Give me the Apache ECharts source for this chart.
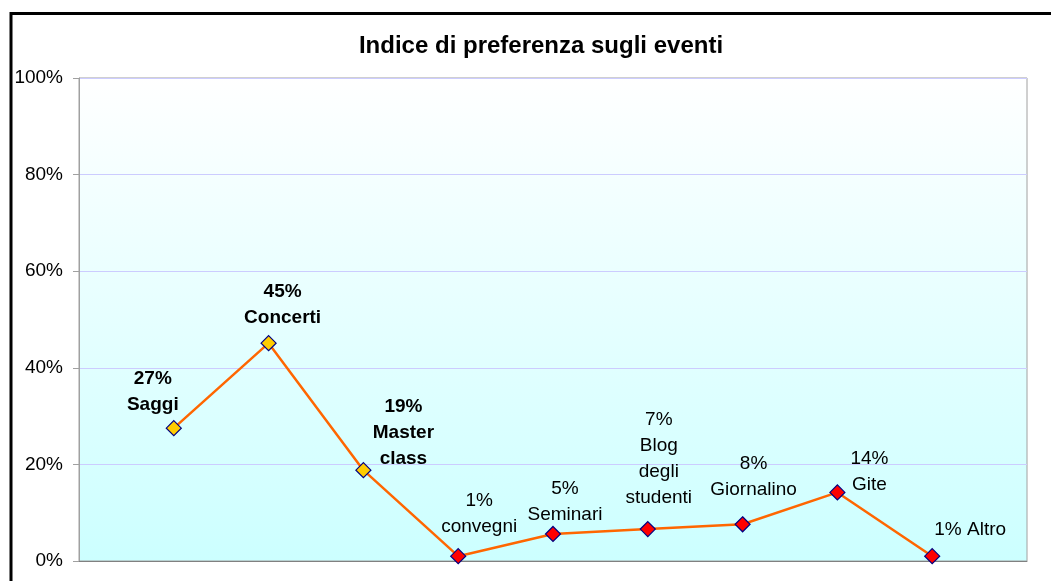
<!DOCTYPE html>
<html>
<head>
<meta charset="utf-8">
<script src="https://cdn.jsdelivr.net/npm/echarts@6/dist/echarts.min.js"></script>
<style>
html, body { margin: 0; padding: 0; background: #fff; }
#chart { width: 1051px; height: 581px; }
</style>
</head>
<body>
<div id="chart"></div>
<script>
// eventi e percentuali
var eventi = ['Saggi', 'Concerti', 'Master class', 'convegni', 'Seminari', 'Blog degli studenti', 'Giornalino', 'Gite', 'Altro'];
var valori = [27.5, 45.1, 18.8, 1.0, 5.6, 6.6, 7.6, 14.2, 1.0];
var percentuali = ['27%', '45%', '19%', '1%', '5%', '7%', '8%', '14%', '1%'];
var etichette = ['Saggi', 'Concerti', 'Master\nclass', 'convegni', 'Seminari', 'Blog\ndegli\nstudenti', 'Giornalino', 'Gite', 'Altro'];
var yTicks = [0, 20, 40, 60, 80, 100];

// posizione etichette (spostamento dal marker)
var spostamenti = [[-21, -36], [14, -38], [40, -37], [21, -42], [12, -32], [11, -70], [11, -48], [32, -21], [38, -26]];

var chart = echarts.init(document.getElementById('chart'));
var font = 'Liberation Sans, Arial, sans-serif';

var punti = valori.map(function (v, i) {
    var grassetto = i < 3;
    return {
        value: v,
        itemStyle: {
            color: grassetto ? '#ffcc00' : '#ff0000',
            borderColor: '#000080',
            borderWidth: 1.2
        },
        label: {
            show: true,
            position: 'inside',
            offset: spostamenti[i],
            align: 'center',
            verticalAlign: 'middle',
            fontWeight: grassetto ? 'bold' : 'normal',
            formatter: i === 8 ? percentuali[i] + ' ' + etichette[i] : percentuali[i] + '\n' + etichette[i]
        }
    };
});

chart.setOption({
    animation: false,
    graphic: [
        {
            type: 'rect',
            shape: { x: 11, y: 13.5, width: 1200, height: 800 },
            style: { fill: 'none', stroke: '#000', lineWidth: 3 },
            z: 100
        },
        {
            type: 'text',
            x: 541,
            y: 46,
            style: {
                text: 'Indice di preferenza sugli eventi',
                font: 'bold 24px ' + font,
                fill: '#000',
                textAlign: 'center',
                textVerticalAlign: 'middle'
            }
        }
    ],
    grid: {
        left: 79,
        right: 24,
        top: 78,
        bottom: 20,
        show: true,
        borderColor: '#a0a0a0',
        borderWidth: 1,
        backgroundColor: new echarts.graphic.LinearGradient(0, 0, 0, 1, [
            { offset: 0, color: '#ffffff' },
            { offset: 1, color: '#ccffff' }
        ])
    },
    xAxis: {
        type: 'category',
        boundaryGap: false,
        data: [''].concat(eventi, ['']),
        axisLine: { lineStyle: { color: '#808080', width: 1 } },
        axisTick: { show: false },
        axisLabel: { show: false },
        splitLine: { show: false }
    },
    yAxis: {
        type: 'value',
        min: yTicks[0],
        max: yTicks[yTicks.length - 1],
        interval: yTicks[1] - yTicks[0],
        axisLine: { show: true, lineStyle: { color: '#a0a0a0' } },
        axisTick: { show: true, length: 6, lineStyle: { color: '#a0a0a0' } },
        axisLabel: {
            formatter: '{value}%',
            color: '#000',
            fontSize: 19,
            fontFamily: font,
            margin: 16
        },
        splitLine: { lineStyle: { color: '#ccccff', width: 1 } }
    },
    series: [{
        type: 'line',
        data: [null].concat(punti, [null]),
        symbol: 'diamond',
        symbolSize: 15,
        showAllSymbol: true,
        lineStyle: { color: '#ff6600', width: 2.5 },
        label: {
            color: '#000',
            fontSize: 19,
            lineHeight: 26,
            fontFamily: font
        },
        z: 3
    }]
});
</script>
</body>
</html>
